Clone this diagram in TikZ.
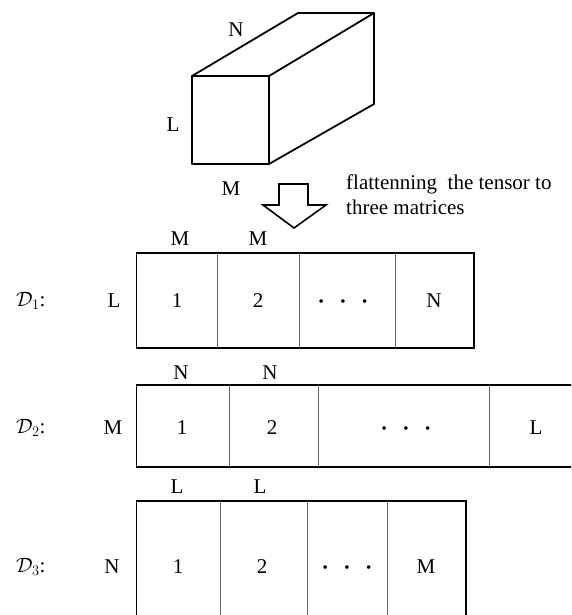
\documentclass[tikz,border=0pt]{standalone}
\usepackage{fontspec}
\setmainfont{Liberation Serif}
\begin{document}
\begin{tikzpicture}[x=1pt,y=-1pt,
  lab/.style={font=\fontsize{21}{25}\selectfont, inner sep=0pt},
  mlab/.style={font=\fontsize{21}{25}\selectfont, inner sep=0pt, anchor=west},
  outline/.style={line width=1.8pt, line join=miter},
  divider/.style={line width=0.9pt, draw=black!60},
  cubeedge/.style={line width=1.8pt, line join=round, line cap=round},
  bigarrow/.style={line width=1.6pt, line join=miter}]
\useasboundingbox (0,0) rectangle (571,615);
\clip (0,0) rectangle (571,615);
\newcommand{\dotrow}{{\fontsize{15}{15}\selectfont\textbullet\hspace{16.5pt}\textbullet\hspace{16.5pt}\textbullet}}

% ---------- cube ----------
\coordinate (A) at (192,76);
\coordinate (B) at (269,76);
\coordinate (C) at (269,164);
\coordinate (D) at (192,164);
\coordinate (E) at (298,13);
\coordinate (F) at (374,13);
\coordinate (G) at (374,104);
\draw[cubeedge] (A) -- (B) -- (C) -- (D) -- cycle;
\draw[cubeedge] (A) -- (E) -- (F) -- (B);
\draw[cubeedge] (F) -- (G) -- (C);
\node[lab] (cN) at (236,30) {N};
\node[lab] (cL) at (173,125) {L};
\node[lab] (cM) at (231,189) {M};

% ---------- arrow ----------
\draw[bigarrow] (279,184) -- (308,184) -- (308,205) -- (326,205) -- (294,228)
  -- (263,205) -- (279,205) -- cycle;
\node[lab, anchor=north west, align=left] (note) at (346,175)
  {flattenning\ \ the tensor to\\three matrices};

% ---------- D1 ----------
\node[mlab] (d1) at (16,301) {$\mathcal{D}_1$:};
\node[lab] (d1r) at (114,301) {L};
\draw[outline] (136.5,253) rectangle (474,348);
\draw[divider] (217,253) -- (217,348);
\draw[divider] (299,253) -- (299,348);
\draw[divider] (395,253) -- (395,348);
\node[lab] (d1a) at (177,301) {1};
\node[lab] (d1b) at (258,301) {2};
\node[lab] (d1c) at (343,303) {\dotrow};
\node[lab] (d1d) at (434,301) {N};
\node[lab] (d1t1) at (180,239) {M};
\node[lab] (d1t2) at (258,239) {M};

% ---------- D2 ----------
\node[mlab] (d2) at (16,428) {$\mathcal{D}_2$:};
\node[lab] (d2r) at (113,428) {M};
\draw[outline] (136.5,385) rectangle (600,467);
\draw[divider] (229,385) -- (229,467);
\draw[divider] (318,385) -- (318,467);
\draw[divider] (489,385) -- (489,467);
\node[lab] (d2a) at (182,428) {1};
\node[lab] (d2b) at (272,428) {2};
\node[lab] (d2c) at (406,430) {\dotrow};
\node[lab] (d2d) at (536,428) {L};
\node[lab] (d2t1) at (181,373) {N};
\node[lab] (d2t2) at (270,373) {N};

% ---------- D3 ----------
\node[mlab] (d3) at (16,567) {$\mathcal{D}_3$:};
\node[lab] (d3r) at (112,567) {N};
\draw[outline] (136.5,501) rectangle (466,640);
\draw[divider] (220,501) -- (220,640);
\draw[divider] (307,501) -- (307,640);
\draw[divider] (387,501) -- (387,640);
\node[lab] (d3a) at (178,567) {1};
\node[lab] (d3b) at (262,567) {2};
\node[lab] (d3c) at (347,569) {\dotrow};
\node[lab] (d3d) at (426,567) {M};
\node[lab] (d3t1) at (177,487) {L};
\node[lab] (d3t2) at (260,487) {L};
\end{tikzpicture}
\end{document}
